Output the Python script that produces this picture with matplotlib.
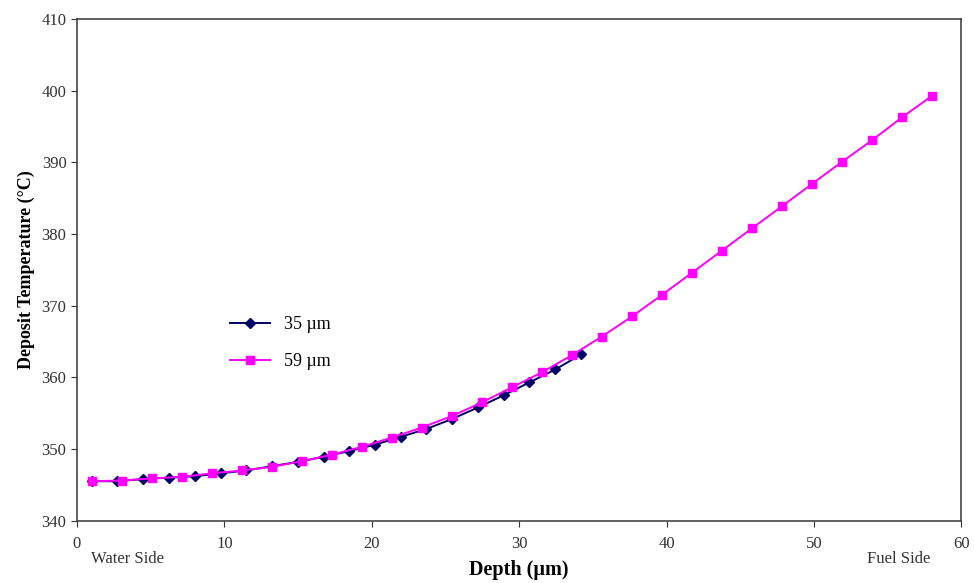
import matplotlib.pyplot as plt

plt.rcParams['font.family'] = ['Liberation Serif', 'DejaVu Serif']

# 35 um deposit
depth_35 = [1.0, 2.75, 4.5, 6.24, 7.99, 9.74, 11.48, 13.23, 14.98, 16.73,
            18.47, 20.22, 21.97, 23.71, 25.46, 27.21, 28.95, 30.7, 32.45, 34.2]
temp_35 = [345.5, 345.5, 345.8, 346.0, 346.2, 346.6, 347.0, 347.6, 348.2, 348.9,
           349.7, 350.6, 351.7, 352.8, 354.2, 355.8, 357.5, 359.3, 361.1, 363.2]

# 59 um deposit
depth_59 = [1.0, 3.04, 5.07, 7.11, 9.14, 11.18, 13.22, 15.25, 17.29, 19.32,
            21.36, 23.4, 25.43, 27.47, 29.5, 31.54, 33.58, 35.61, 37.65, 39.68,
            41.72, 43.76, 45.79, 47.83, 49.86, 51.9, 53.94, 55.97, 58.0]
temp_59 = [345.5, 345.6, 345.9, 346.1, 346.6, 347.0, 347.5, 348.3, 349.2, 350.3,
           351.6, 353.0, 354.6, 356.5, 358.6, 360.7, 363.1, 365.7, 368.5, 371.5,
           374.6, 377.7, 380.8, 383.9, 387.0, 390.1, 393.1, 396.3, 399.3]

fig = plt.figure(figsize=(9.74, 5.83), dpi=100)
ax = fig.add_axes([0.079, 0.107, 0.908, 0.860])

ax.plot(depth_35, temp_35, color='#000066', marker='D', markersize=5,
        linewidth=1.4, label='35 \u00b5m', zorder=2)
ax.plot(depth_59, temp_59, color='#ff00ff', marker='s', markersize=6,
        linewidth=1.4, label='59 \u00b5m', zorder=3)

ax.set_xlim(0, 60)
ax.set_ylim(340, 410)
ax.set_xticks(range(0, 61, 10))
ax.set_yticks(range(340, 411, 10))
ax.tick_params(direction='out', length=4, labelsize=12, color='#333333',
               labelcolor='#333333', top=False, right=False)
ax.tick_params(axis='x', pad=7)
for s in ax.spines.values():
    s.set_color('#444444')
    s.set_linewidth(1.2)

ax.set_xlabel('Depth (\u00b5m)', fontsize=14.5, fontweight='bold', labelpad=6)
ax.set_ylabel('Deposit Temperature (\u00b0C)', fontsize=13, fontweight='bold', labelpad=5)

ax.text(0.016, -0.06, 'Water Side', transform=ax.transAxes, fontsize=12,
        color='#333333', ha='left', va='top')
ax.text(0.965, -0.06, 'Fuel Side', transform=ax.transAxes, fontsize=12,
        color='#333333', ha='right', va='top')

leg = ax.legend(loc='upper left', bbox_to_anchor=(0.155, 0.44), frameon=False,
                fontsize=13, handlelength=2.2, labelspacing=1.1)

fig.savefig('out.png', dpi=100)
